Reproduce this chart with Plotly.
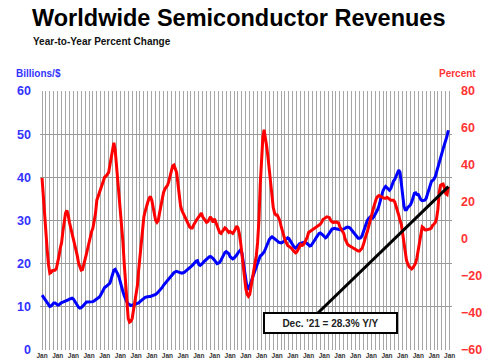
import pandas as pd
import plotly.graph_objects as go

# Monthly data, Jan 1996 .. Dec 2021
months = pd.date_range("1996-01-01", periods=312, freq="MS")

# Three-month average worldwide semiconductor sales, billions of dollars
revenue = [
    12.7, 12.3, 11.9, 11.5, 11.0, 10.5, 10.1, 10.2, 10.6, 10.9, 10.9, 10.6,  # 1996
    10.4, 10.5, 10.8, 11.0, 11.1, 11.2, 11.3, 11.4, 11.6, 11.8, 11.9, 12.0,  # 1997
    11.8, 11.3, 10.8, 10.3, 9.9, 9.7, 9.8, 10.1, 10.5, 10.9, 11.1, 11.1,     # 1998
    11.1, 11.1, 11.1, 11.2, 11.4, 11.6, 11.8, 12.0, 12.3, 12.8, 13.5, 14.2,  # 1999
    14.5, 14.7, 14.9, 15.1, 15.5, 16.5, 17.8, 18.5, 18.7, 18.3, 17.6, 16.8,  # 2000
    15.5, 14.5, 13.5, 12.5, 11.7, 11.1, 10.7, 10.4, 10.3, 10.4, 10.5, 10.6,  # 2001
    10.6, 10.7, 10.9, 11.2, 11.5, 11.8, 12.0, 12.2, 12.3, 12.4, 12.4, 12.4,  # 2002
    12.5, 12.6, 12.7, 12.9, 13.1, 13.4, 13.7, 14.1, 14.5, 15.0, 15.4, 15.8,  # 2003
    16.1, 16.4, 16.8, 17.2, 17.6, 17.9, 18.1, 18.2, 18.1, 18.0, 17.9, 17.8,  # 2004
    17.9, 18.0, 18.3, 18.5, 18.7, 19.0, 19.3, 19.6, 20.0, 20.4, 20.6, 20.7,  # 2005
    19.8, 19.6, 19.8, 20.1, 20.5, 20.8, 21.0, 21.3, 21.6, 21.7, 21.5, 21.2,  # 2006
    20.8, 20.3, 20.0, 20.1, 20.3, 20.8, 21.4, 22.0, 22.6, 22.8, 22.6, 22.3,  # 2007
    21.6, 21.2, 21.1, 21.3, 21.6, 22.0, 22.5, 23.0, 23.2, 22.5, 20.2, 17.5,  # 2008
    15.2, 14.2, 14.2, 14.8, 15.6, 16.7, 17.5, 18.3, 19.4, 20.4, 21.2, 21.8,  # 2009
    22.0, 22.3, 22.7, 23.4, 24.3, 25.1, 25.6, 26.0, 26.2, 26.0, 25.8, 25.6,  # 2010
    25.3, 25.0, 24.9, 24.8, 24.9, 25.2, 25.5, 25.8, 26.0, 25.8, 25.3, 24.8,  # 2011
    24.2, 23.8, 23.6, 23.8, 24.2, 24.6, 24.7, 24.8, 25.0, 25.0, 24.9, 24.7,  # 2012
    24.4, 24.1, 24.2, 24.6, 25.1, 25.6, 26.1, 26.6, 27.0, 27.1, 26.9, 26.6,  # 2013
    26.3, 26.0, 26.2, 26.7, 27.3, 27.8, 28.0, 28.1, 28.2, 28.1, 28.0, 28.0,  # 2014
    27.9, 27.8, 27.9, 28.0, 28.2, 28.4, 28.5, 28.4, 28.2, 27.8, 27.4, 27.0,  # 2015
    26.6, 26.2, 25.9, 25.9, 26.0, 26.5, 27.4, 28.4, 29.4, 30.0, 30.5, 30.8,  # 2016
    30.6, 30.5, 30.9, 31.4, 32.0, 32.6, 33.5, 34.7, 35.9, 36.9, 37.5, 37.9,  # 2017
    37.6, 37.2, 37.0, 37.4, 38.3, 39.1, 39.5, 40.2, 41.0, 41.7, 41.2, 39.0,  # 2018
    35.5, 33.3, 32.5, 32.5, 33.0, 33.3, 33.6, 34.3, 35.2, 36.3, 36.4, 36.0,  # 2019
    36.0, 35.2, 34.8, 34.6, 34.6, 34.7, 35.1, 36.0, 37.2, 38.3, 39.0, 39.3,  # 2020
    39.6, 40.2, 41.3, 42.5, 43.7, 44.7, 45.6, 46.6, 47.6, 48.4, 49.6, 50.9,  # 2021
]

# Year-to-year percent change
yoy = [
    33, 22, 12, 3, -6, -14, -18.5, -18, -17, -17, -16.8, -16,          # 1996
    -13, -9, -5, -2, 4, 10, 14, 15.5, 13, 9, 6, 3.5,                   # 1997
    1, -2, -5, -9, -13, -15.7, -16.8, -16.5, -14, -11, -8, -5,         # 1998
    -1.5, 1, 4, 6, 10, 14, 21, 23, 25, 28, 30, 32,                     # 1999
    33.5, 34, 35, 36, 40, 44, 50, 52, 48, 40, 33, 25,                  # 2000
    15, 8, -2, -14, -25, -38, -43, -45, -44.5, -43, -39, -34,          # 2001
    -31, -25, -17, -10, -3, 5, 12, 15, 18, 20, 22, 23,                 # 2002
    21, 17, 13, 10, 9, 10, 14, 18, 22, 25, 27, 28,                     # 2003
    29, 31, 34, 37, 39.5, 40, 38.5, 36, 30, 24, 18, 15.5,              # 2004
    14, 12, 11, 10, 8, 6.5, 6, 6, 7.5, 9, 10, 11,                      # 2005
    12, 13, 14, 12, 11, 10, 9, 9.5, 11, 12, 10.5, 9,                   # 2006
    11, 9, 7, 5, 3.5, 3, 4, 5.5, 6, 5.5, 4.5, 3.5,                     # 2007
    4, 3.5, 3, 4, 5.5, 7, 6, 3, -2, -8, -15, -22,                      # 2008
    -27, -30, -31, -30, -26, -22, -18, -14, -9, -2, 10, 29,            # 2009
    45, 55, 59, 55, 50, 44, 37, 30, 22, 17, 14, 13,                    # 2010
    13, 11.5, 10, 7, 4, 2, -0.5, -2, -3.5, -4, -4.5, -5,               # 2011
    -6, -7, -7.5, -7, -5.5, -4, -3, -3.5, -3, -2, -0.5, 1,             # 2012
    3.5, 4, 4.5, 5, 5.5, 6, 6.5, 7, 7.5, 8, 9, 10.5,                   # 2013
    11, 11.5, 12, 11.8, 11.5, 10, 9.2, 9, 9.2, 9.2, 9, 8.6,            # 2014
    6.5, 5.5, 4.5, 3, 0, -1.5, -3, -3.5, -4, -4.5, -5, -5.5,           # 2015
    -6, -6.5, -6.5, -6.5, -6, -5, -3, 0, 2, 4, 6.5, 8.6,               # 2016
    12, 15, 17.5, 20, 22, 23, 23.5, 23, 22.5, 22.5, 22, 22,            # 2017
    22.5, 22, 21.5, 21, 21, 21, 20, 18, 15, 13, 10, 8,                 # 2018
    3, -3, -8, -11.5, -13.5, -15, -15.5, -16.2, -15.5, -14.5, -13, -10,  # 2019
    -6, -1, 4, 6.5, 6, 5, 4.9, 5, 5.5, 5.5, 6, 7.5,                    # 2020
    8, 9, 11, 16, 25, 29, 29.5, 29.7, 27.6, 24.5, 24, 28.3,            # 2021
]

left_ticks = [0, 10, 20, 30, 40, 50, 60]
right_ticks = [-60, -40, -20, 0, 20, 40, 60, 80]

title_text = "Worldwide Semiconductor Revenues"
subtitle_text = "Year-to-Year Percent Change"
callout_text = "Dec. '21 = 28.3% Y/Y"

FONT = "Liberation Sans, Arial, sans-serif"
BLUE_TXT = "#3333ff"
RED_TXT = "#ff3333"
GRID = "#a6a6a6"

fig = go.Figure()
fig.add_trace(go.Scatter(x=months, y=revenue, mode="lines", yaxis="y",
                         line=dict(color="#0000ff", width=3), showlegend=False))
fig.add_trace(go.Scatter(x=months, y=yoy, mode="lines", yaxis="y2",
                         line=dict(color="#ff0000", width=3), showlegend=False))

fig.update_layout(
    width=485, height=360,
    margin=dict(l=40, r=33, t=91, b=10),
    paper_bgcolor="white", plot_bgcolor="white",
    font=dict(family=FONT),
    xaxis=dict(
        type="date", range=["1995-11-15", "2022-02-24"],
        tick0="1996-01-01", dtick="M12", tickformat="%b",
        ticks="", showgrid=True, gridcolor=GRID, gridwidth=1,
        minor=dict(dtick="M3", tick0="1996-01-01", showgrid=True,
                   gridcolor=GRID, gridwidth=1),
        tickfont=dict(size=6.5, color="#333333", family=FONT, weight="bold"),
        ticklabelstandoff=0, automargin=False,
        showline=False, zeroline=False,
    ),
    yaxis=dict(
        range=[0, 60], tickvals=left_ticks, showgrid=True,
        gridcolor="#9a9a9a", gridwidth=1.2, zeroline=False, ticks="",
        tickfont=dict(size=12.5, color=BLUE_TXT, family=FONT, weight="bold"),
        ticklabelstandoff=8, automargin=False,
    ),
    yaxis2=dict(
        range=[-60, 80], tickvals=right_ticks, overlaying="y", side="right",
        showgrid=False, zeroline=False, ticks="",
        tickfont=dict(size=12.5, color=RED_TXT, family=FONT, weight="bold"),
        ticklabelstandoff=8, automargin=False,
    ),
    shapes=[dict(
        type="line", xref="x", yref="y2",
        x0="2013-08-06", y0=-40, x1=months[-1], y1=yoy[-1],
        line=dict(color="black", width=3), layer="above",
    )],
    annotations=[
        dict(text=f"<b>{title_text}</b>", xref="paper", yref="paper",
             x=0.483, y=1.282, xanchor="center", yanchor="middle",
             showarrow=False, font=dict(size=23.5, color="black", family=FONT)),
        dict(text=f"<b>{subtitle_text}</b>", xref="paper", yref="paper",
             x=-0.0218, y=1.193, xanchor="left", yanchor="middle",
             showarrow=False, font=dict(size=10, color="#111111", family=FONT)),
        dict(text="<b>Billions/$</b>", xref="paper", yref="paper",
             x=-0.063, y=1.066, xanchor="left", yanchor="middle",
             showarrow=False, font=dict(size=10, color=BLUE_TXT, family=FONT)),
        dict(text="<b>Percent</b>", xref="paper", yref="paper",
             x=1.063, y=1.066, xanchor="right", yanchor="middle",
             showarrow=False, font=dict(size=10, color=RED_TXT, family=FONT)),
        dict(text=f"<b>{callout_text}</b>", xref="paper", yref="paper",
             x=0.7039, y=0.104, xanchor="center", yanchor="middle",
             showarrow=False, width=128, height=15, borderpad=1.5,
             bordercolor="black", borderwidth=2, bgcolor="white",
             font=dict(size=10, color="#222222", family=FONT)),
    ],
)

fig.write_html(
    "out.html",
    config={"displayModeBar": False},
    post_script="document.body.style.margin='0';document.body.style.overflow='hidden';",
)
